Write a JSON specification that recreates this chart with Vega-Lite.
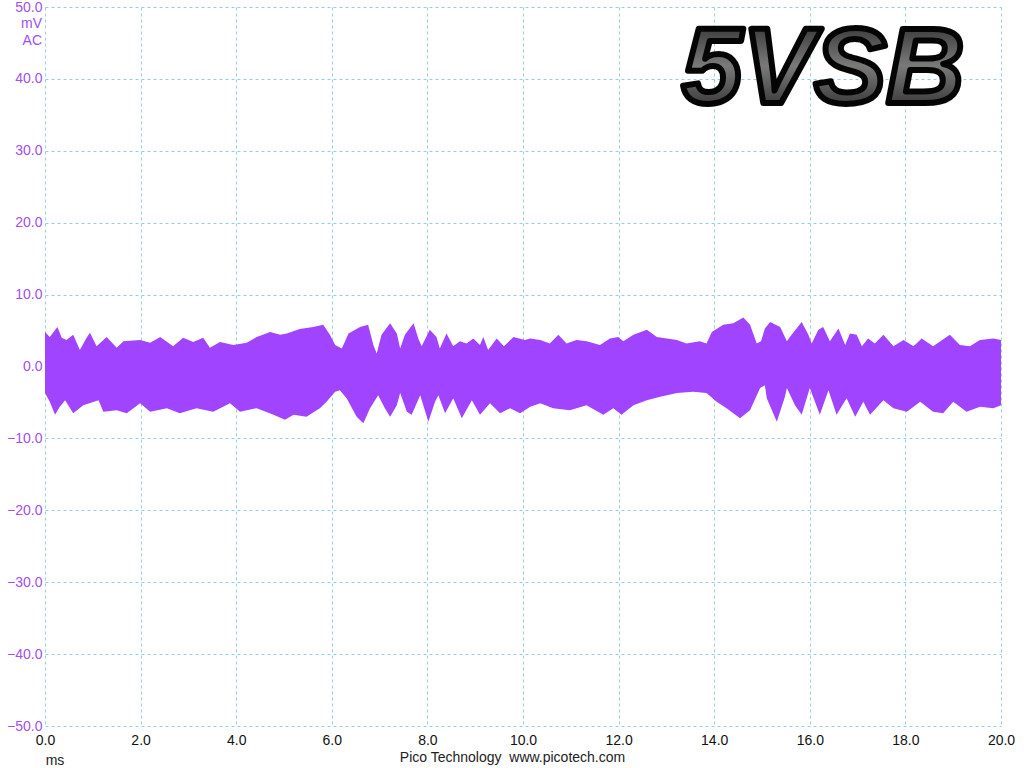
{
  "$schema": "https://vega.github.io/schema/vega-lite/v6.json",
  "width": 956,
  "height": 719,
  "autosize": {"type": "none"},
  "padding": {"left": 45, "top": 7, "right": 23, "bottom": 42},
  "background": "white",
  "config": {"view": {"stroke": null}, "font": "Liberation Sans"},
  "datasets": {
    "hi": [
      {"t":0.00,"v":4.8},{"t":0.10,"v":4.1},{"t":0.26,"v":5.5},{"t":0.35,"v":4.0},{"t":0.45,"v":3.7},{"t":0.59,"v":4.4},{"t":0.73,"v":2.3},{"t":0.87,"v":4.0},{"t":0.94,"v":4.7},{"t":1.08,"v":2.8},
      {"t":1.29,"v":4.1},{"t":1.50,"v":2.6},{"t":1.64,"v":3.5},{"t":1.99,"v":3.7},{"t":2.20,"v":3.3},{"t":2.41,"v":4.1},{"t":2.68,"v":2.8},{"t":2.89,"v":4.0},{"t":3.10,"v":3.4},{"t":3.31,"v":4.0},
      {"t":3.45,"v":2.6},{"t":3.66,"v":3.4},{"t":3.94,"v":3.0},{"t":4.22,"v":3.3},{"t":4.43,"v":4.1},{"t":4.71,"v":4.8},{"t":4.92,"v":4.4},{"t":5.06,"v":4.6},{"t":5.33,"v":5.2},{"t":5.61,"v":5.5},
      {"t":5.82,"v":5.8},{"t":5.96,"v":4.4},{"t":6.07,"v":3.0},{"t":6.21,"v":2.5},{"t":6.35,"v":4.6},{"t":6.59,"v":5.5},{"t":6.76,"v":5.8},{"t":6.87,"v":3.0},{"t":6.94,"v":1.8},{"t":7.04,"v":4.4},
      {"t":7.22,"v":6.0},{"t":7.36,"v":4.6},{"t":7.43,"v":2.5},{"t":7.53,"v":4.4},{"t":7.71,"v":6.0},{"t":7.81,"v":3.9},{"t":7.88,"v":2.8},{"t":8.05,"v":5.1},{"t":8.19,"v":4.1},{"t":8.26,"v":2.5},
      {"t":8.40,"v":4.6},{"t":8.54,"v":2.8},{"t":8.68,"v":3.5},{"t":8.82,"v":3.2},{"t":8.96,"v":3.9},{"t":9.10,"v":3.0},{"t":9.17,"v":4.1},{"t":9.27,"v":2.3},{"t":9.45,"v":3.9},{"t":9.60,"v":2.8},
      {"t":9.80,"v":4.1},{"t":10.04,"v":3.7},{"t":10.15,"v":3.9},{"t":10.36,"v":3.7},{"t":10.56,"v":3.2},{"t":10.74,"v":4.4},{"t":10.91,"v":3.2},{"t":11.12,"v":3.7},{"t":11.33,"v":3.5},{"t":11.61,"v":3.0},
      {"t":11.82,"v":3.9},{"t":11.99,"v":4.1},{"t":12.10,"v":3.5},{"t":12.31,"v":4.4},{"t":12.59,"v":5.1},{"t":12.80,"v":4.1},{"t":13.01,"v":3.9},{"t":13.22,"v":3.7},{"t":13.42,"v":3.2},{"t":13.70,"v":3.5},
      {"t":13.84,"v":3.2},{"t":13.95,"v":4.8},{"t":14.19,"v":5.8},{"t":14.40,"v":6.0},{"t":14.61,"v":6.8},{"t":14.75,"v":5.8},{"t":14.89,"v":3.2},{"t":14.98,"v":3.5},{"t":15.06,"v":5.3},{"t":15.17,"v":6.2},
      {"t":15.38,"v":5.5},{"t":15.52,"v":3.5},{"t":15.62,"v":4.4},{"t":15.83,"v":6.2},{"t":15.97,"v":4.4},{"t":16.04,"v":3.2},{"t":16.18,"v":5.1},{"t":16.28,"v":5.5},{"t":16.42,"v":3.5},{"t":16.60,"v":5.3},
      {"t":16.74,"v":3.0},{"t":16.84,"v":4.6},{"t":16.98,"v":4.4},{"t":17.09,"v":2.8},{"t":17.22,"v":3.9},{"t":17.36,"v":3.2},{"t":17.54,"v":4.4},{"t":17.75,"v":2.8},{"t":17.96,"v":3.7},{"t":18.17,"v":2.8},
      {"t":18.34,"v":3.9},{"t":18.58,"v":2.8},{"t":18.93,"v":4.4},{"t":19.14,"v":3.0},{"t":19.35,"v":2.8},{"t":19.56,"v":3.7},{"t":19.84,"v":3.9},{"t":20.00,"v":3.7}
    ],
    "lo": [
      {"t":0.00,"v":-3.7},{"t":0.10,"v":-4.9},{"t":0.21,"v":-6.7},{"t":0.31,"v":-5.6},{"t":0.42,"v":-4.7},{"t":0.59,"v":-6.5},{"t":0.80,"v":-5.4},{"t":1.12,"v":-4.7},{"t":1.22,"v":-6.3},{"t":1.50,"v":-6.1},
      {"t":1.71,"v":-6.5},{"t":1.99,"v":-5.1},{"t":2.20,"v":-6.3},{"t":2.55,"v":-5.8},{"t":2.82,"v":-6.5},{"t":3.17,"v":-5.8},{"t":3.52,"v":-6.3},{"t":3.87,"v":-5.1},{"t":4.08,"v":-6.3},{"t":4.43,"v":-5.8},
      {"t":4.78,"v":-6.7},{"t":5.02,"v":-7.4},{"t":5.20,"v":-6.7},{"t":5.47,"v":-7.0},{"t":5.75,"v":-5.8},{"t":5.89,"v":-4.9},{"t":6.07,"v":-3.5},{"t":6.17,"v":-3.3},{"t":6.31,"v":-4.4},{"t":6.52,"v":-7.0},
      {"t":6.66,"v":-7.9},{"t":6.80,"v":-5.8},{"t":6.97,"v":-4.0},{"t":7.11,"v":-5.8},{"t":7.22,"v":-7.0},{"t":7.36,"v":-5.4},{"t":7.43,"v":-3.7},{"t":7.57,"v":-6.3},{"t":7.67,"v":-6.7},{"t":7.85,"v":-4.0},
      {"t":8.02,"v":-7.7},{"t":8.16,"v":-4.9},{"t":8.23,"v":-4.0},{"t":8.37,"v":-6.5},{"t":8.54,"v":-4.4},{"t":8.72,"v":-7.2},{"t":8.93,"v":-4.7},{"t":9.10,"v":-6.7},{"t":9.31,"v":-5.1},{"t":9.52,"v":-6.5},
      {"t":9.73,"v":-5.8},{"t":9.94,"v":-6.5},{"t":10.15,"v":-5.6},{"t":10.36,"v":-5.1},{"t":10.63,"v":-5.8},{"t":10.98,"v":-6.1},{"t":11.33,"v":-5.4},{"t":11.68,"v":-6.7},{"t":11.89,"v":-5.8},{"t":12.06,"v":-6.7},
      {"t":12.31,"v":-5.4},{"t":12.59,"v":-4.7},{"t":12.87,"v":-4.2},{"t":13.22,"v":-3.7},{"t":13.56,"v":-3.5},{"t":13.84,"v":-3.7},{"t":14.05,"v":-4.9},{"t":14.26,"v":-5.8},{"t":14.54,"v":-7.2},{"t":14.75,"v":-6.1},
      {"t":14.96,"v":-3.0},{"t":15.06,"v":-2.6},{"t":15.10,"v":-4.4},{"t":15.31,"v":-7.7},{"t":15.48,"v":-4.2},{"t":15.52,"v":-3.0},{"t":15.69,"v":-5.4},{"t":15.83,"v":-6.7},{"t":16.00,"v":-3.0},{"t":16.21,"v":-6.7},
      {"t":16.39,"v":-3.3},{"t":16.56,"v":-6.7},{"t":16.77,"v":-4.4},{"t":16.95,"v":-7.0},{"t":17.12,"v":-4.9},{"t":17.26,"v":-6.7},{"t":17.54,"v":-4.7},{"t":17.75,"v":-5.8},{"t":18.03,"v":-6.3},{"t":18.31,"v":-4.9},
      {"t":18.58,"v":-6.3},{"t":18.79,"v":-6.5},{"t":19.00,"v":-4.9},{"t":19.28,"v":-6.3},{"t":19.56,"v":-5.6},{"t":19.84,"v":-5.8},{"t":20.00,"v":-5.4}
    ],
    "units": [
      {"t":0,"v":47.6,"label":"mV"},
      {"t":0,"v":45.3,"label":"AC"}
    ],
    "xunit": [{"t":0,"v":-50,"label":"ms"}],
    "title": [{"t":16.28,"v":36.6,"label":"5VSB"}]
  },
  "layer": [
    {
      "data": {"name": "hi"},
      "mark": {"type": "area", "color": "#a044ff"},
      "encoding": {
        "x": {"field": "t", "type": "quantitative", "scale": {"domain": [0, 20], "nice": false, "zero": false},
          "axis": {"values": [0,2,4,6,8,10,12,14,16,18,20], "format": ".1f", "grid": true, "gridColor": "#9ccbe6", "gridDash": [3,3], "gridWidth": 1,
            "domain": false, "ticks": false, "labelFlush": false, "labelColor": "#111111", "labelFontSize": 14, "labelPadding": 7,
            "title": "Pico Technology\u00a0\u00a0www.picotech.com", "titleFontWeight": "normal", "titleFontSize": 14, "titleColor": "#222222", "titlePadding": 3, "titleX": 467}},
        "y": {"field": "v", "type": "quantitative", "stack": null, "scale": {"domain": [-50, 50], "nice": false},
          "axis": {"values": [-50,-40,-30,-20,-10,0,10,20,30,40,50], "format": ".1f", "grid": true, "gridColor": "#9ccbe6", "gridDash": [3,3], "gridWidth": 1,
            "domain": false, "ticks": false, "labelColor": "#a050f0", "labelFontSize": 14, "labelPadding": 3, "title": null}},
        "y2": {"datum": -1}
      }
    },
    {
      "data": {"name": "lo"},
      "mark": {"type": "area", "color": "#a044ff"},
      "encoding": {
        "x": {"field": "t", "type": "quantitative"},
        "y": {"field": "v", "type": "quantitative", "stack": null},
        "y2": {"datum": 1}
      }
    },
    {
      "data": {"name": "units"},
      "mark": {"type": "text", "align": "right", "baseline": "middle", "dx": -3, "fontSize": 14, "color": "#a050f0"},
      "encoding": {
        "x": {"field": "t", "type": "quantitative"},
        "y": {"field": "v", "type": "quantitative"},
        "text": {"field": "label"}
      }
    },
    {
      "data": {"name": "xunit"},
      "mark": {"type": "text", "align": "center", "baseline": "middle", "dx": 10, "dy": 35, "fontSize": 14, "color": "#222222"},
      "encoding": {
        "x": {"field": "t", "type": "quantitative"},
        "y": {"field": "v", "type": "quantitative"},
        "text": {"field": "label"}
      }
    },
    {
      "data": {"name": "title"},
      "mark": {"type": "text", "align": "center", "baseline": "alphabetic", "fontSize": 108, "fontStyle": "italic", "fontWeight": "bold",
        "color": {"gradient": "linear", "x1": 0, "y1": 0, "x2": 0, "y2": 1, "stops": [{"offset": 0, "color": "#1a1a1a"}, {"offset": 0.5, "color": "#7a7a7a"}, {"offset": 1, "color": "#1a1a1a"}]},
        "stroke": "#050505", "strokeWidth": 6, "strokeJoin": "round"},
      "encoding": {
        "x": {"field": "t", "type": "quantitative"},
        "y": {"field": "v", "type": "quantitative"},
        "text": {"field": "label"}
      }
    }
  ]
}
